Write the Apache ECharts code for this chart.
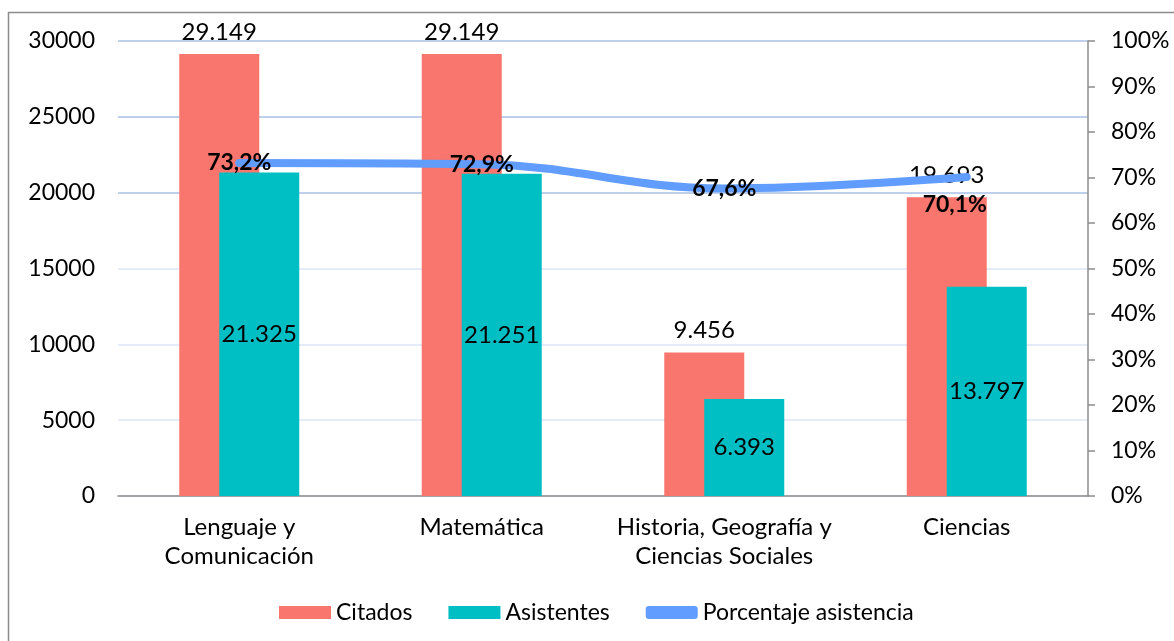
<!DOCTYPE html>
<html>
<head>
<meta charset="utf-8">
<script src="https://cdn.jsdelivr.net/npm/echarts@6/dist/echarts.min.js"></script>
<style>
  html, body { margin: 0; padding: 0; background: #fff; }
  #chart { width: 1174px; height: 641px; }
</style>
</head>
<body>
<div id="chart"></div>
<script>
// datos del gráfico
const categories = ['Lenguaje y\nComunicación', 'Matemática', 'Historia, Geografía y\nCiencias Sociales', 'Ciencias'];
const citados = [29149, 29149, 9456, 19693];
const asistentes = [21325, 21251, 6393, 13797];
const porcentaje = [0.732, 0.729, 0.676, 0.701];
const leftTicks = [0, 5000, 10000, 15000, 20000, 25000, 30000];

const font = 'Lato, "Open Sans", sans-serif';
const fmtMiles = v => String(v).replace(/\B(?=(\d{3})+(?!\d))/g, '.');
const fmtPct = v => (v * 100).toFixed(1).replace('.', ',') + '%';

const chart = echarts.init(document.getElementById('chart'));
chart.setOption({
  animation: false,
  textStyle: { fontFamily: font },
  graphic: [{
    type: 'rect',
    shape: { x: 8.5, y: 12.5, width: 1300, height: 800 },
    style: { fill: 'none', stroke: '#8c8c8c', lineWidth: 1.5 },
    z: -1
  }],
  grid: { left: 118, right: 86, top: 41, bottom: 145 },
  legend: {
    left: 274,
    top: 596,
    itemWidth: 52,
    itemHeight: 13,
    itemGap: 36,
    textStyle: { fontSize: 23, color: '#000', fontFamily: font },
    data: [
      { name: 'Citados', icon: 'rect' },
      { name: 'Asistentes', icon: 'rect' },
      { name: 'Porcentaje asistencia', icon: 'roundRect' }
    ]
  },
  xAxis: {
    type: 'category',
    data: categories,
    axisTick: { show: false },
    axisLine: { lineStyle: { color: '#8c8c8c', width: 1.5 } },
    axisLabel: { color: '#000', fontSize: 24, lineHeight: 29, margin: 17, interval: 0 }
  },
  yAxis: [
    {
      type: 'value',
      min: leftTicks[0],
      max: leftTicks[leftTicks.length - 1],
      interval: 5000,
      axisLine: { show: false },
      axisTick: { show: false },
      axisLabel: { color: '#000', fontSize: 23, margin: 23, formatter: v => String(v) },
      splitLine: {
        lineStyle: {
          color: ['#dde5f4', '#dde5f4', '#dde5f4', '#dde5f4', '#aac0e7', '#aac0e7', '#aac0e7'],
          width: 1.5
        }
      }
    },
    {
      type: 'value',
      min: 0,
      max: 1,
      interval: 0.1,
      position: 'right',
      axisLine: { show: true, lineStyle: { color: '#8c8c8c', width: 1.5 } },
      axisTick: { show: true, length: 7, lineStyle: { color: '#8c8c8c', width: 1.5 } },
      axisLabel: { color: '#000', fontSize: 23, margin: 23, formatter: v => Math.round(v * 100) + '%' },
      splitLine: { show: false }
    }
  ],
  series: [
    {
      name: 'Citados',
      type: 'bar',
      data: citados,
      barWidth: 80,
      barGap: '-50%',
      itemStyle: { color: '#f8766d' },
      label: {
        show: true, position: 'top', distance: 10,
        color: '#000', fontSize: 24,
        formatter: p => fmtMiles(p.value)
      }
    },
    {
      name: 'Asistentes',
      type: 'bar',
      data: asistentes,
      barWidth: 80,
      itemStyle: { color: '#00bfc4' },
      label: {
        show: true, position: 'inside',
        color: '#000', fontSize: 24,
        formatter: p => fmtMiles(p.value)
      }
    },
    {
      name: 'Porcentaje asistencia',
      type: 'line',
      yAxisIndex: 1,
      smooth: 0.4,
      symbol: 'circle',
      symbolSize: 2,
      showSymbol: true,
      lineStyle: { color: '#619cff', width: 8, cap: 'round' },
      itemStyle: { color: '#619cff' },
      data: porcentaje,
      label: {
        show: true, position: 'inside',
        color: '#000', fontSize: 23, fontWeight: 'bold',
        formatter: p => fmtPct(p.value)
      },
      // la última etiqueta va desplazada bajo la línea, como en el original
      labelLayout: p => (p.dataIndex === 3 ? { dx: -12, dy: 28, hideOverlap: false } : { hideOverlap: false })
    }
  ]
});
</script>
</body>
</html>
